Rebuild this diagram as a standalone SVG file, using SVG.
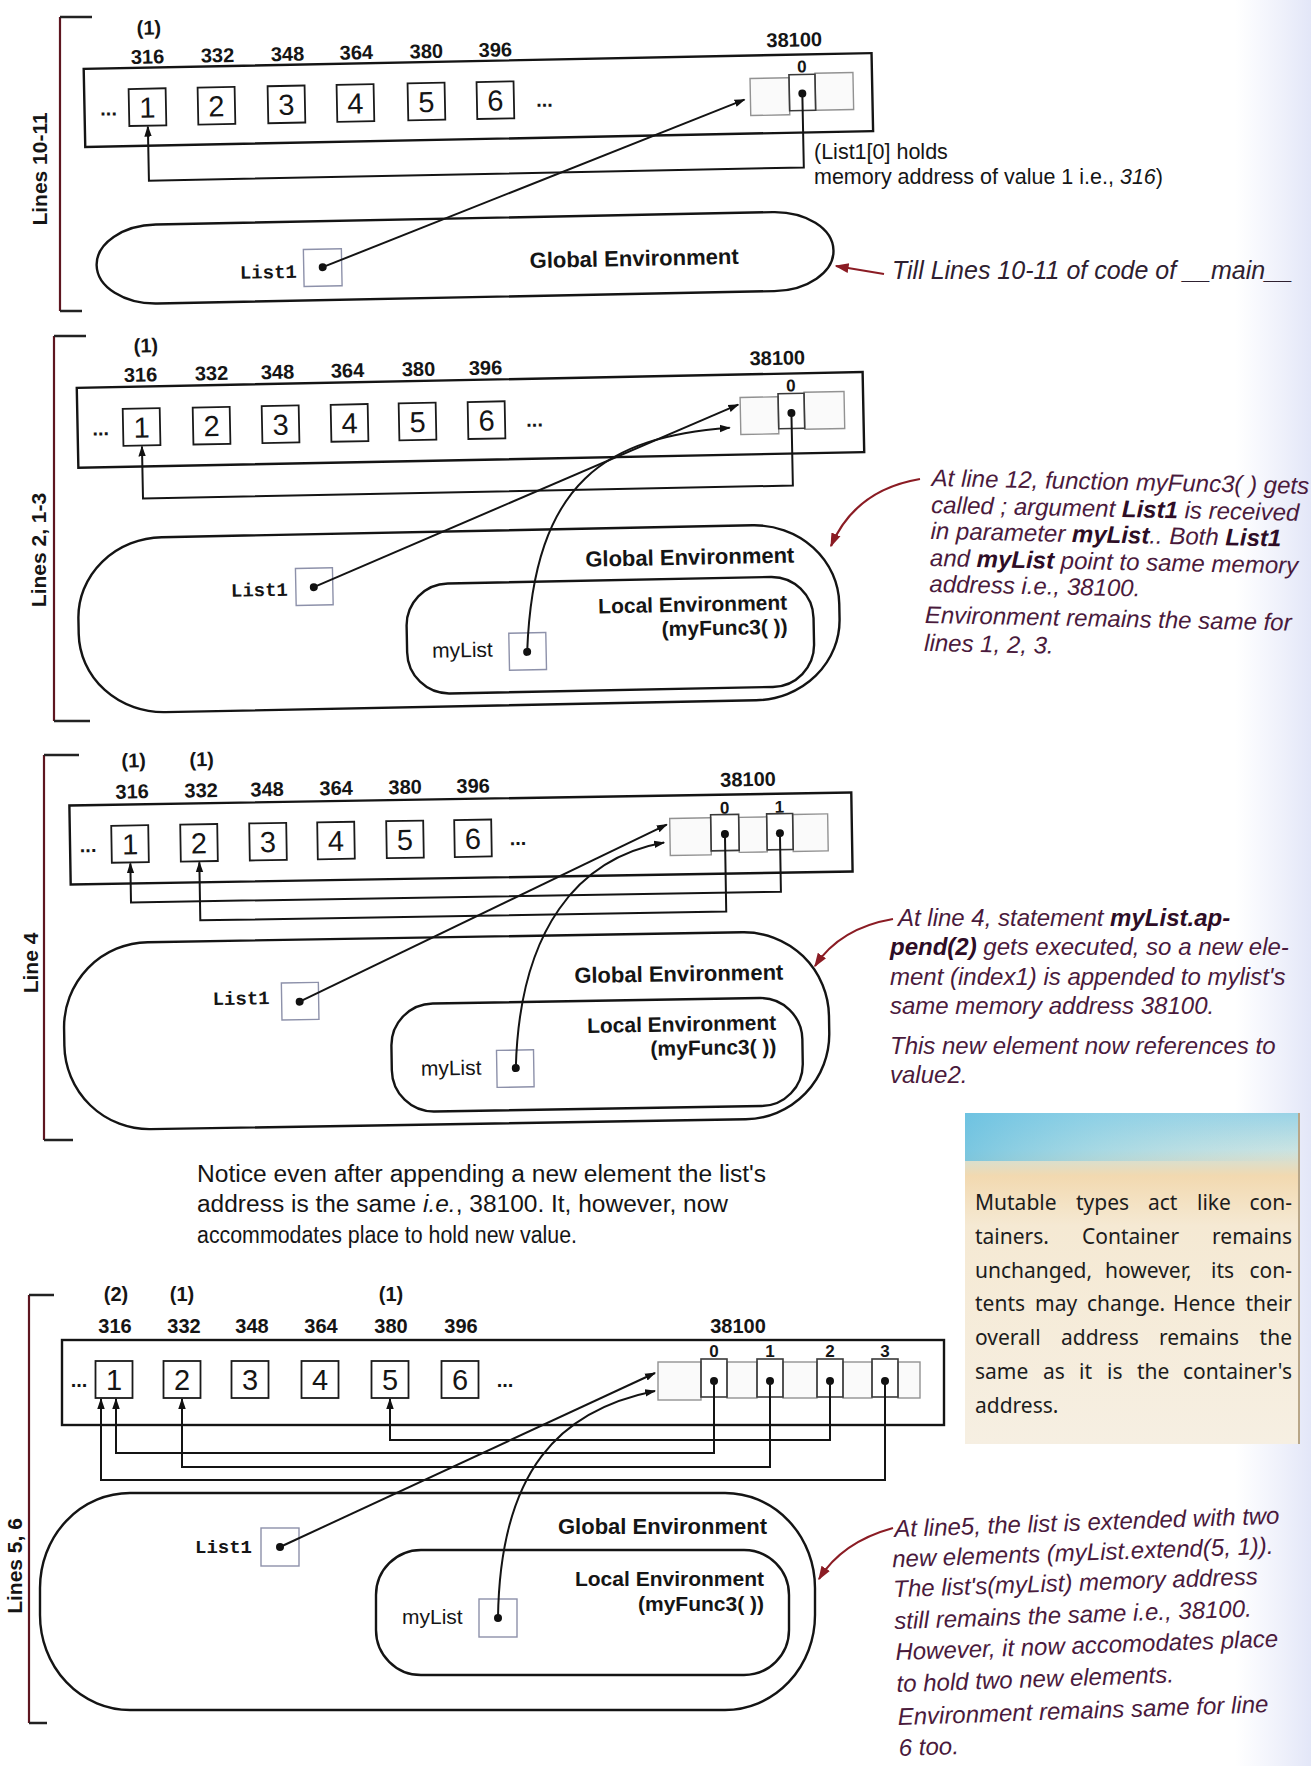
<svg xmlns="http://www.w3.org/2000/svg" width="1311" height="1766" viewBox="0 0 1311 1766">
<defs>
<style>
.mem{fill:none;stroke:#141414;stroke-width:2.4}
.env{fill:none;stroke:#141414;stroke-width:2.4}
.vb{fill:#fff;stroke:#1a1a1a;stroke-width:1.8}
.cell{fill:#fafafa;stroke:#929292;stroke-width:1.4}
.slot{fill:none;stroke:#3a3a3a;stroke-width:1.6}
.var{fill:#fff;stroke:#8d91aa;stroke-width:1.4}
.dot{fill:#111}
.cn{fill:none;stroke:#141414;stroke-width:2}
.cnr{fill:none;stroke:#8b1c24;stroke-width:2.2}
.brk{fill:none;stroke:#222;stroke-width:2.4}
.brv{fill:none;stroke:#5e1620;stroke-width:2.2}
text{font-family:"Liberation Sans",Arial,sans-serif;fill:#151515}
.addr{font-size:20px;font-weight:bold;text-anchor:middle}
.idx{font-size:17px;font-weight:bold;text-anchor:middle}
.dig{font-size:29px;text-anchor:middle}
.dots{font-size:20px;font-weight:bold;text-anchor:middle}
.lab{font-size:22px;font-weight:bold}
.labe{font-size:21px;font-weight:bold;text-anchor:end}
.mono{font-family:"Liberation Mono","DejaVu Sans Mono",monospace;font-size:19px;font-weight:bold}
.vt{font-size:21px}
.vt2{font-size:21.5px}
.side{font-size:21px;font-weight:bold;text-anchor:middle}
.note{font-size:24px;font-style:italic;fill:#4a1a3c}
.b{font-weight:bold;fill:#2e0d26}
.body{font-size:23px}
.sb{font-family:"Noto Sans","Open Sans",sans-serif;font-size:21px;fill:#1c1c1c}
.sbe{font-family:"Noto Sans","Open Sans",sans-serif;font-size:21px;fill:#1c1c1c;text-anchor:end}
</style>
<marker id="ah" viewBox="0 0 10 10" refX="9" refY="5" markerWidth="11" markerHeight="11" markerUnits="userSpaceOnUse" orient="auto"><path d="M0,1.6 L10,5 L0,8.4 z" fill="#111"/></marker>
<marker id="ahr" viewBox="0 0 10 10" refX="9" refY="5" markerWidth="14" markerHeight="14" markerUnits="userSpaceOnUse" orient="auto"><path d="M0,1.5 L10,5 L0,8.5 z" fill="#8b1c24"/></marker>
<linearGradient id="sbV" x1="0" y1="0" x2="0" y2="1">
<stop offset="0" stop-color="#9ad3e6"/>
<stop offset="0.11" stop-color="#c9e3e2"/>
<stop offset="0.19" stop-color="#f2d9b0"/>
<stop offset="0.34" stop-color="#f5e9d3"/>
<stop offset="1" stop-color="#f6efe2"/>
</linearGradient>
<linearGradient id="sbH" x1="0" y1="0" x2="1" y2="0">
<stop offset="0" stop-color="#5fbde0" stop-opacity="0.75"/>
<stop offset="0.4" stop-color="#7ccbe5" stop-opacity="0.45"/>
<stop offset="1" stop-color="#9fd6e8" stop-opacity="0"/>
</linearGradient>
<linearGradient id="haze" x1="0" y1="0" x2="1" y2="0">
<stop offset="0" stop-color="#c8cff2" stop-opacity="0"/>
<stop offset="1" stop-color="#c0c8ef" stop-opacity="0.45"/>
</linearGradient>
</defs>
<rect width="1311" height="1766" fill="#ffffff"/>
<rect x="1235" y="0" width="76" height="1766" fill="url(#haze)"/>

<!-- brackets with rotated labels -->
<g id="bracket-1"><path class="brv" d="M60 17 V311"/><path class="brk" d="M60 17 H92 M60 311 H82"/><text class="side" transform="translate(47 169) rotate(-90)">Lines 10-11</text></g>
<g id="bracket-2"><path class="brv" d="M54 336 V721"/><path class="brk" d="M54 336 H86 M54 721 H90"/><text class="side" transform="translate(46 550) rotate(-90)">Lines 2, 1-3</text></g>
<g id="bracket-3"><path class="brv" d="M44 755 V1140"/><path class="brk" d="M44 755 H79 M44 1140 H73"/><text class="side" transform="translate(38 963) rotate(-90)">Line 4</text></g>
<g id="bracket-4"><path class="brv" d="M29 1295 V1723"/><path class="brk" d="M29 1295 H54 M29 1723 H47"/><text class="side" transform="translate(22 1566) rotate(-90)">Lines 5, 6</text></g>

<g id="nodes">
<!-- PANEL 1 -->
<g id="panel1" transform="rotate(-1.15 480 180)">
<g id="p1-memory">
<rect class="mem" x="86" y="61" width="788" height="78"/>
<text class="addr" x="152" y="28">(1)</text>
<text class="addr" x="150" y="57">316</text><text class="addr" x="220" y="57">332</text><text class="addr" x="290" y="57">348</text><text class="addr" x="359" y="57">364</text><text class="addr" x="429" y="57">380</text><text class="addr" x="498" y="57">396</text>
<text class="dots" x="110" y="108">...</text><text class="dots" x="546" y="108">...</text>
</g>
<g id="p1-v1"><rect class="vb" x="130.5" y="82" width="37" height="37"/><text class="dig" x="149" y="111">1</text></g>
<g id="p1-v2"><rect class="vb" x="199.5" y="82" width="37" height="37"/><text class="dig" x="218" y="111">2</text></g>
<g id="p1-v3"><rect class="vb" x="269.5" y="82" width="37" height="37"/><text class="dig" x="288" y="111">3</text></g>
<g id="p1-v4"><rect class="vb" x="338.5" y="82" width="37" height="37"/><text class="dig" x="357" y="111">4</text></g>
<g id="p1-v5"><rect class="vb" x="409.5" y="82" width="37" height="37"/><text class="dig" x="428" y="111">5</text></g>
<g id="p1-v6"><rect class="vb" x="478.5" y="82" width="37" height="37"/><text class="dig" x="497" y="111">6</text></g>
<g id="p1-list">
<text class="addr" x="797" y="53">38100</text>
<rect class="cell" x="752" y="84" width="39" height="37"/>
<rect class="cell" x="817" y="80" width="38" height="37"/>
<rect class="slot" x="791" y="81" width="26" height="36"/>
<text class="idx" x="804" y="79">0</text>
<circle class="dot" cx="804" cy="100" r="4"/>
</g>
<g id="p1-global">
<rect class="env" x="95" y="218" width="737" height="79" rx="60" ry="39.5"/>
<text class="lab" x="528" y="269">Global Environment</text>
</g>
<g id="p1-List1">
<text class="mono" x="238" y="274">List1</text>
<rect class="var" x="302" y="246" width="38" height="37"/>
<circle class="dot" cx="321" cy="264" r="4"/>
</g>
</g>

<!-- PANEL 2 -->
<g id="panel2" transform="rotate(-1.15 470 545)">
<g id="p2-memory">
<rect class="mem" x="80" y="380" width="786" height="80"/>
<text class="addr" x="150" y="346">(1)</text>
<text class="addr" x="144" y="375">316</text><text class="addr" x="215" y="375">332</text><text class="addr" x="281" y="375">348</text><text class="addr" x="351" y="375">364</text><text class="addr" x="422" y="375">380</text><text class="addr" x="489" y="375">396</text>
<text class="dots" x="103" y="428">...</text><text class="dots" x="537" y="428">...</text>
</g>
<g id="p2-v1"><rect class="vb" x="125.5" y="402" width="37" height="37"/><text class="dig" x="144" y="431">1</text></g>
<g id="p2-v2"><rect class="vb" x="195.5" y="402" width="37" height="37"/><text class="dig" x="214" y="431">2</text></g>
<g id="p2-v3"><rect class="vb" x="264.5" y="402" width="37" height="37"/><text class="dig" x="283" y="431">3</text></g>
<g id="p2-v4"><rect class="vb" x="333.5" y="402" width="37" height="37"/><text class="dig" x="352" y="431">4</text></g>
<g id="p2-v5"><rect class="vb" x="401.5" y="402" width="37" height="37"/><text class="dig" x="420" y="431">5</text></g>
<g id="p2-v6"><rect class="vb" x="470.5" y="402" width="37" height="37"/><text class="dig" x="489" y="431">6</text></g>
<g id="p2-list">
<text class="addr" x="781" y="371">38100</text>
<rect class="cell" x="743" y="403" width="38" height="37"/>
<rect class="cell" x="807" y="399" width="40" height="37"/>
<rect class="slot" x="781" y="400" width="26" height="35"/>
<text class="idx" x="794" y="398">0</text>
<circle class="dot" cx="794" cy="419.5" r="4"/>
</g>
<g id="p2-global">
<rect class="env" x="77" y="531" width="761" height="175" rx="85" ry="80"/>
<text class="lab" x="585" y="569">Global Environment</text>
</g>
<g id="p2-List1">
<text class="mono" x="230" y="592">List1</text>
<rect class="var" x="295" y="565" width="37" height="37"/>
<circle class="dot" cx="313" cy="584" r="4"/>
</g>
<g id="p2-local">
<rect class="env" x="405" y="583" width="407" height="110" rx="42" ry="42"/>
<text class="labe" x="786" y="616">Local Environment</text>
<text class="labe" x="786" y="640">(myFunc3( ))</text>
</g>
<g id="p2-myList">
<text class="vt" x="430" y="657">myList</text>
<rect class="var" x="507" y="634" width="37" height="37"/>
<circle class="dot" cx="525" cy="653" r="4"/>
</g>
</g>

<!-- PANEL 3 -->
<g id="panel3" transform="rotate(-0.95 460 960)">
<g id="p3-memory">
<rect class="mem" x="72" y="799" width="782" height="79"/>
<text class="addr" x="137" y="762">(1)</text><text class="addr" x="205" y="762">(1)</text>
<text class="addr" x="135" y="793">316</text><text class="addr" x="204" y="793">332</text><text class="addr" x="270" y="793">348</text><text class="addr" x="339" y="793">364</text><text class="addr" x="408" y="793">380</text><text class="addr" x="476" y="793">396</text>
<text class="dots" x="90" y="846">...</text><text class="dots" x="520" y="846">...</text>
</g>
<g id="p3-v1"><rect class="vb" x="113.5" y="820" width="37" height="37"/><text class="dig" x="132" y="849">1</text></g>
<g id="p3-v2"><rect class="vb" x="182.5" y="820" width="37" height="37"/><text class="dig" x="201" y="849">2</text></g>
<g id="p3-v3"><rect class="vb" x="251.5" y="820" width="37" height="37"/><text class="dig" x="270" y="849">3</text></g>
<g id="p3-v4"><rect class="vb" x="319.5" y="820" width="37" height="37"/><text class="dig" x="338" y="849">4</text></g>
<g id="p3-v5"><rect class="vb" x="388.5" y="820" width="37" height="37"/><text class="dig" x="407" y="849">5</text></g>
<g id="p3-v6"><rect class="vb" x="456.5" y="820" width="37" height="37"/><text class="dig" x="475" y="849">6</text></g>
<g id="p3-list">
<text class="addr" x="751" y="791">38100</text>
<rect class="cell" x="672" y="822" width="41" height="37"/>
<rect class="cell" x="741" y="822" width="28" height="35"/>
<rect class="cell" x="795" y="820" width="35" height="37"/>
<rect class="slot" x="713" y="819" width="28" height="36"/>
<rect class="slot" x="769" y="819" width="26" height="36"/>
<text class="idx" x="727" y="818">0</text><text class="idx" x="782" y="818">1</text>
<circle class="dot" cx="727" cy="838.5" r="4"/><circle class="dot" cx="782" cy="838.5" r="4"/>
</g>
<g id="p3-global">
<rect class="env" x="63" y="937" width="765" height="187" rx="85" ry="85"/>
<text class="lab" x="574" y="985">Global Environment</text>
</g>
<g id="p3-List1">
<text class="mono" x="212" y="1001">List1</text>
<rect class="var" x="281" y="980" width="37" height="37"/>
<circle class="dot" cx="299" cy="999" r="4"/>
</g>
<g id="p3-local">
<rect class="env" x="390" y="1003" width="411" height="108" rx="42" ry="42"/>
<text class="labe" x="775" y="1035">Local Environment</text>
<text class="labe" x="775" y="1059">(myFunc3( ))</text>
</g>
<g id="p3-myList">
<text class="vt" x="419" y="1075">myList</text>
<rect class="var" x="495" y="1051" width="37" height="37"/>
<circle class="dot" cx="514" cy="1069" r="4"/>
</g>
</g>

<!-- PANEL 4 -->
<g id="panel4">
<g id="p4-memory">
<rect class="mem" x="62" y="1340" width="882" height="85"/>
<text class="addr" x="116" y="1301">(2)</text><text class="addr" x="182" y="1301">(1)</text><text class="addr" x="391" y="1301">(1)</text>
<text class="addr" x="115" y="1333">316</text><text class="addr" x="184" y="1333">332</text><text class="addr" x="252" y="1333">348</text><text class="addr" x="321" y="1333">364</text><text class="addr" x="391" y="1333">380</text><text class="addr" x="461" y="1333">396</text>
<text class="dots" x="79" y="1387">...</text><text class="dots" x="505" y="1387">...</text>
</g>
<g id="p4-v1"><rect class="vb" x="95.5" y="1361" width="37" height="37"/><text class="dig" x="114" y="1390">1</text></g>
<g id="p4-v2"><rect class="vb" x="163.5" y="1361" width="37" height="37"/><text class="dig" x="182" y="1390">2</text></g>
<g id="p4-v3"><rect class="vb" x="231.5" y="1361" width="37" height="37"/><text class="dig" x="250" y="1390">3</text></g>
<g id="p4-v4"><rect class="vb" x="301.5" y="1361" width="37" height="37"/><text class="dig" x="320" y="1390">4</text></g>
<g id="p4-v5"><rect class="vb" x="371.5" y="1361" width="37" height="37"/><text class="dig" x="390" y="1390">5</text></g>
<g id="p4-v6"><rect class="vb" x="441.5" y="1361" width="37" height="37"/><text class="dig" x="460" y="1390">6</text></g>
<g id="p4-list">
<text class="addr" x="738" y="1333">38100</text>
<rect class="cell" x="658" y="1362" width="43" height="38"/>
<rect class="cell" x="727" y="1362" width="30" height="36"/>
<rect class="cell" x="783" y="1362" width="34" height="36"/>
<rect class="cell" x="843" y="1362" width="29" height="36"/>
<rect class="cell" x="898" y="1362" width="22" height="36"/>
<rect class="slot" x="701" y="1359" width="26" height="38"/>
<rect class="slot" x="757" y="1359" width="26" height="38"/>
<rect class="slot" x="817" y="1359" width="26" height="38"/>
<rect class="slot" x="872" y="1359" width="26" height="38"/>
<text class="idx" x="714" y="1357">0</text><text class="idx" x="770" y="1357">1</text><text class="idx" x="830" y="1357">2</text><text class="idx" x="885" y="1357">3</text>
<circle class="dot" cx="714" cy="1381" r="4"/><circle class="dot" cx="770" cy="1381" r="4"/><circle class="dot" cx="830" cy="1381" r="4"/><circle class="dot" cx="885" cy="1381" r="4"/>
</g>
<g id="p4-global">
<rect class="env" x="40" y="1493" width="775" height="217" rx="90" ry="95"/>
<text class="lab" x="558" y="1534">Global Environment</text>
</g>
<g id="p4-List1">
<text class="mono" x="195" y="1553">List1</text>
<rect class="var" x="261" y="1528" width="38" height="38"/>
<circle class="dot" cx="280" cy="1547" r="4"/>
</g>
<g id="p4-local">
<rect class="env" x="376" y="1550" width="413" height="125" rx="45" ry="45"/>
<text class="labe" x="764" y="1586">Local Environment</text>
<text class="labe" x="764" y="1611">(myFunc3( ))</text>
</g>
<g id="p4-myList">
<text class="vt" x="402" y="1624">myList</text>
<rect class="var" x="479" y="1599" width="38" height="38"/>
<circle class="dot" cx="498" cy="1618" r="4"/>
</g>
</g>

<!-- annotations -->
<g id="note1">
<text class="note" x="892" y="279" style="fill:#2e2030;font-size:25px">Till Lines 10-11 of code of __main__</text>
</g>
<g id="note-list1">
<text class="vt2" x="814" y="159">(List1[0] holds</text>
<text class="vt2" x="814" y="184">memory address of value 1 i.e., <tspan font-style="italic">316</tspan>)</text>
</g>
<g id="note2" transform="rotate(1.2 930 560)">
<text class="note" x="930" y="486">At line 12, function myFunc3( ) gets</text>
<text class="note" x="930" y="513">called ; argument <tspan class="b">List1</tspan> is received</text>
<text class="note" x="930" y="539">in parameter <tspan class="b">myList</tspan>.. Both <tspan class="b">List1</tspan></text>
<text class="note" x="930" y="566">and <tspan class="b">myList</tspan> point to same memory</text>
<text class="note" x="930" y="592">address i.e., 38100.</text>
<text class="note" x="926" y="623">Environment remains the same for</text>
<text class="note" x="926" y="651">lines 1, 2, 3.</text>
</g>
<g id="note3">
<text class="note" x="898" y="926">At line 4, statement <tspan class="b">myList.ap-</tspan></text>
<text class="note" x="890" y="955"><tspan class="b">pend(2)</tspan> gets executed, so a new ele-</text>
<text class="note" x="890" y="985">ment (index1) is appended to mylist's</text>
<text class="note" x="890" y="1014">same memory address 38100.</text>
<text class="note" x="890" y="1054">This new element now references to</text>
<text class="note" x="890" y="1083">value2.</text>
</g>
<g id="note4" transform="rotate(-2 898 1640)">
<text class="note" x="898" y="1537">At line5, the list is extended with two</text>
<text class="note" x="895" y="1567">new elements (myList.extend(5, 1)).</text>
<text class="note" x="895" y="1597">The list's(myList) memory address</text>
<text class="note" x="895" y="1629">still remains the same i.e., 38100.</text>
<text class="note" x="895" y="1660">However, it now accomodates place</text>
<text class="note" x="895" y="1692">to hold two new elements.</text>
<text class="note" x="895" y="1725">Environment remains same for line</text>
<text class="note" x="895" y="1756">6 too.</text>
</g>
<g id="note-paragraph">
<text class="body" x="197" y="1182" textLength="569" lengthAdjust="spacingAndGlyphs">Notice even after appending a new element the list's</text>
<text class="body" x="197" y="1212" textLength="531" lengthAdjust="spacingAndGlyphs">address is the same <tspan font-style="italic">i.e.</tspan>, 38100. It, however, now</text>
<text class="body" x="197" y="1243" textLength="380" lengthAdjust="spacingAndGlyphs">accommodates place to hold new value.</text>
</g>
<g id="sidebar">
<rect x="965" y="1113" width="334" height="331" fill="url(#sbV)"/>
<rect x="965" y="1113" width="334" height="48" fill="url(#sbH)"/>
<line x1="1299" y1="1113" x2="1299" y2="1444" stroke="#b8a688" stroke-width="2"/>
<text class="sb" y="1210"><tspan x="975">Mutable</tspan><tspan x="1076">types</tspan><tspan x="1148">act</tspan><tspan x="1197">like</tspan></text><text class="sbe" x="1292" y="1210">con-</text>
<text class="sb" y="1244"><tspan x="975">tainers.</tspan><tspan x="1082">Container</tspan></text><text class="sbe" x="1292" y="1244">remains</text>
<text class="sb" y="1278"><tspan x="975">unchanged,</tspan><tspan x="1105">however,</tspan><tspan x="1211">its</tspan></text><text class="sbe" x="1292" y="1278">con-</text>
<text class="sb" y="1311"><tspan x="975">tents</tspan><tspan x="1035">may</tspan><tspan x="1087">change.</tspan><tspan x="1173">Hence</tspan></text><text class="sbe" x="1292" y="1311">their</text>
<text class="sb" y="1345"><tspan x="975">overall</tspan><tspan x="1061">address</tspan><tspan x="1159">remains</tspan></text><text class="sbe" x="1292" y="1345">the</text>
<text class="sb" y="1379"><tspan x="975">same</tspan><tspan x="1043">as</tspan><tspan x="1079">it</tspan><tspan x="1107">is</tspan><tspan x="1137">the</tspan></text><text class="sbe" x="1292" y="1379">container's</text>
<text class="sb" x="975" y="1413">address.</text>
</g>
</g>

<g id="connectors">
<g transform="rotate(-1.15 480 180)">
<path class="cn" d="M804 100 V174 H149 V120" marker-end="url(#ah)"/>
<path class="cn" d="M321 264 L746 105" marker-end="url(#ah)"/>
</g>
<g transform="rotate(-1.15 470 545)">
<path class="cn" d="M794 419.5 V492 H144 V440" marker-end="url(#ah)"/>
<path class="cn" d="M313 584 L741 410" marker-end="url(#ah)"/>
<path class="cn" d="M525 653 C535 480 610 440 732 433" marker-end="url(#ah)"/>
</g>
<g transform="rotate(-0.95 460 960)">
<path class="cn" d="M782 838.5 V897 H132 V858" marker-end="url(#ah)"/>
<path class="cn" d="M727 838.5 V916 H201 V858" marker-end="url(#ah)"/>
<path class="cn" d="M299 999 L669 828" marker-end="url(#ah)"/>
<path class="cn" d="M514 1069 C520 930 580 860 666 846" marker-end="url(#ah)"/>
</g>
<g>
<path class="cn" d="M830 1381 V1440 H390 V1399" marker-end="url(#ah)"/>
<path class="cn" d="M714 1381 V1453 H116 V1399" marker-end="url(#ah)"/>
<path class="cn" d="M770 1381 V1467 H182 V1399" marker-end="url(#ah)"/>
<path class="cn" d="M885 1381 V1480 H101 V1399" marker-end="url(#ah)"/>
<path class="cn" d="M280 1547 L655 1373" marker-end="url(#ah)"/>
<path class="cn" d="M498 1618 C500 1470 560 1410 655 1391" marker-end="url(#ah)"/>
</g>
<path class="cnr" d="M884 274 L836 266" marker-end="url(#ahr)"/>
<path class="cnr" d="M920 479 Q855 490 831 546" marker-end="url(#ahr)"/>
<path class="cnr" d="M893 919 Q840 928 815 966" marker-end="url(#ahr)"/>
<path class="cnr" d="M893 1528 Q842 1542 819 1579" marker-end="url(#ahr)"/>
</g>
</svg>
